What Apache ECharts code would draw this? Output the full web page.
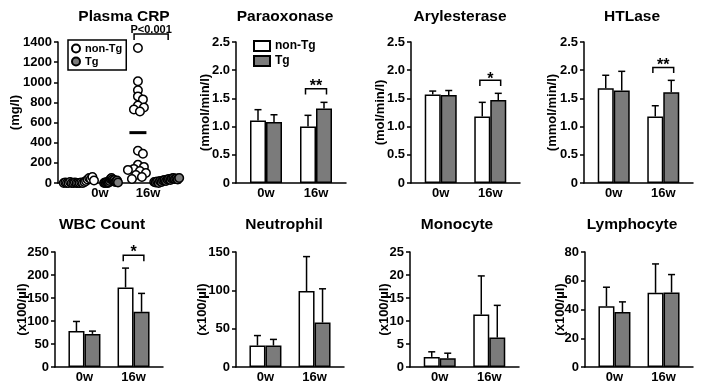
<!DOCTYPE html>
<html>
<head>
<meta charset="utf-8">
<script src="https://cdn.jsdelivr.net/npm/echarts@6/dist/echarts.min.js"></script>
<style>
html,body{margin:0;padding:0;background:#fff}
#chart{width:704px;height:390px}
</style>
</head>
<body>
<div id="chart"></div>
<script>
var titles = ['Plasma CRP', 'Paraoxonase', 'Arylesterase', 'HTLase', 'WBC Count', 'Neutrophil', 'Monocyte', 'Lymphocyte'];
var units = ['(mg/l)', '(mmol/min/l)', '(mol/min/l)', '(mmol/min/l)', '(x100/\u00b5l)', '(x100/\u00b5l)', '(x100/\u00b5l)', '(x100/\u00b5l)'];
var yMax = [1400, 2.5, 2.5, 2.5, 250, 150, 25, 80];
var yStep = [200, 0.5, 0.5, 0.5, 50, 50, 5, 20];

// CRP dots (mg/l), listed left to right as they sit in each cluster
var crp0wNonTg = [0, 5, 0, 0, 10, 0, 0, 5, 0, 0, 0, 5, 0, 10, 20, 35, 50, 40, 60, 25];
var crp0wTg = [0, 5, 0, 10, 0, 5, 20, 40, 50, 35, 20, 30, 10, 15, 25, 5];
var crp16wNonTg = [1340, 1010, 920, 860, 830, 770, 750, 730, 710, 320, 290, 180, 160, 140, 130, 120, 100, 80, 60, 40];
var crp16wTg = [10, 5, 15, 0, 20, 10, 25, 30, 20, 35, 40, 30, 45, 50, 40, 45, 35, 50];
var crpMean = [12, 20, 500, 30];

// bar panels: mean and upper SD, [0w, 16w]
var paraNonTg = [1.11, 1.00], paraNonTgSd = [0.19, 0.20];
var paraTg = [1.08, 1.32], paraTgSd = [0.13, 0.11];
var arylNonTg = [1.57, 1.18], arylNonTgSd = [0.06, 0.25];
var arylTg = [1.56, 1.47], arylTgSd = [0.08, 0.12];
var htlNonTg = [1.68, 1.18], htlNonTgSd = [0.23, 0.19];
var htlTg = [1.64, 1.61], htlTgSd = [0.34, 0.21];
var wbcNonTg = [78, 173], wbcNonTgSd = [21, 42];
var wbcTg = [72, 120], wbcTgSd = [6, 40];
var neutNonTg = [28, 99], neutNonTgSd = [13, 45];
var neutTg = [28, 58], neutTgSd = [8, 44];
var monoNonTg = [2.2, 11.4], monoNonTgSd = [1.1, 8.4];
var monoTg = [1.9, 6.4], monoTgSd = [1.1, 7.0];
var lymNonTg = [42.3, 51.6], lymNonTgSd = [13.2, 20.1];
var lymTg = [38.2, 51.8], lymTgSd = [7.1, 12.5];

// significance brackets
var sigPanel = [0, 1, 2, 3, 4];
var sigText = ['P<0.001', '**', '*', '**', '*'];
var sigFrom = [0.71, 0.79, 0.79, 0.79, 0.79];
var sigTo = [1.42, 1.21, 1.21, 1.21, 1.21];
var sigTop = [1480, 1.67, 1.82, 2.05, 243];
var sigLeg = [1420, 1.57, 1.72, 1.95, 230];
var sigLabelY = [1519, 1.71, 1.84, 2.09, 249];

// layout
var FONT = '"Liberation Sans", Arial, Helvetica, sans-serif';
var grids = [
  {left: 58, top: 42, width: 122, height: 141},
  {left: 236, top: 42, width: 110, height: 141},
  {left: 411, top: 42, width: 109, height: 141},
  {left: 584, top: 42, width: 109, height: 141},
  {left: 55, top: 252, width: 108, height: 115},
  {left: 236, top: 252, width: 108, height: 115},
  {left: 410, top: 252, width: 109, height: 115},
  {left: 585, top: 252, width: 108, height: 115}
];
var nameGaps = [36, 24, 24, 25, 26, 27, 19, 18];
var titlePos = [[124, 17], [285, 17], [460, 17], [632, 17], [102, 225], [284, 225], [457, 225], [632, 225]];
var crpCenter = [-0.44, 0.23, 0.79, 1.39];
var crpSpread = [0.63, 0.29, 0, 0.52]; // 0 = beeswarm
var BAR_W = 16;
var GREY = '#7b7b7b';

var crpGroups = [crp0wNonTg, crp0wTg, crp16wNonTg, crp16wTg];
var barNonTg = [paraNonTg, arylNonTg, htlNonTg, wbcNonTg, neutNonTg, monoNonTg, lymNonTg];
var barNonTgSd = [paraNonTgSd, arylNonTgSd, htlNonTgSd, wbcNonTgSd, neutNonTgSd, monoNonTgSd, lymNonTgSd];
var barTg = [paraTg, arylTg, htlTg, wbcTg, neutTg, monoTg, lymTg];
var barTgSd = [paraTgSd, arylTgSd, htlTgSd, wbcTgSd, neutTgSd, monoTgSd, lymTgSd];

function weekLabel(v) {
  if (Math.abs(v) < 1e-6) return '0w';
  if (Math.abs(v - 1) < 1e-6) return '16w';
  return '';
}

// spread a cluster: evenly across a width, or beeswarm around the centre
function placeDots(vals, cx, spread) {
  var xPx = 48, yPx = 141 / 1400, minD = 5.5;
  if (spread > 0) {
    return vals.map(function (v, i) {
      return [cx - spread / 2 + spread * i / (vals.length - 1), v];
    });
  }
  var placed = [];
  return vals.map(function (v) {
    var py = v * yPx, off = 0;
    for (var k = 0; k < 60; k++) {
      off = (k % 2 ? 1 : -1) * Math.ceil(k / 2);
      var ok = placed.every(function (p) {
        var dx = p[0] - off, dy = p[1] - py;
        return dx * dx + dy * dy >= minD * minD;
      });
      if (ok) break;
    }
    placed.push([off, py]);
    return [cx + off / xPx, v];
  });
}

function renderErr(params, api) {
  var p0 = api.coord([api.value(0), api.value(1)]);
  var p1 = api.coord([api.value(0), api.value(2)]);
  var cx = p0[0] + api.value(3) * BAR_W / 2;
  var st = {stroke: '#000', lineWidth: 1.5};
  return {type: 'group', children: [
    {type: 'line', shape: {x1: cx, y1: p0[1], x2: cx, y2: p1[1]}, style: st},
    {type: 'line', shape: {x1: cx - 3.5, y1: p1[1], x2: cx + 3.5, y2: p1[1]}, style: st}
  ]};
}

function renderMean(params, api) {
  var p = api.coord([api.value(0), api.value(1)]);
  return {type: 'line', shape: {x1: p[0] - 8.5, y1: p[1], x2: p[0] + 8.5, y2: p[1]},
    style: {stroke: '#000', lineWidth: 3}};
}

function makeSig(k) {
  var label = sigText[k];
  var size = k === 0 ? 11 : 16;
  return {
    type: 'custom', xAxisIndex: sigPanel[k], yAxisIndex: sigPanel[k], silent: true, z: 5,
    data: [[sigFrom[k], sigTo[k], sigTop[k], sigLeg[k], sigLabelY[k]]],
    encode: {x: [0, 1], y: [2, 3, 4]},
    renderItem: function (params, api) {
      var a = api.coord([api.value(0), api.value(2)]);
      var b = api.coord([api.value(1), api.value(2)]);
      var legY = api.coord([api.value(0), api.value(3)])[1];
      var t = api.coord([(api.value(0) + api.value(1)) / 2, api.value(4)]);
      return {type: 'group', children: [
        {type: 'polyline', shape: {points: [[a[0], legY], [a[0], a[1]], [b[0], b[1]], [b[0], legY]]},
          style: {stroke: '#000', lineWidth: 1.5, fill: null}},
        {type: 'text', x: t[0], y: t[1], style: {text: label, fill: '#000',
          font: 'bold ' + size + 'px ' + FONT, align: 'center', verticalAlign: 'middle',
          textAlign: 'center', textVerticalAlign: 'middle'}}
      ]};
    }
  };
}

var xAxes = [], yAxes = [], series = [], graphics = [];
grids.forEach(function (g, i) {
  var isCrp = i === 0;
  xAxes.push({
    type: 'value', gridIndex: i,
    min: isCrp ? -0.875 : -0.6,
    max: isCrp ? -0.875 + 122 / 48 : 1.6,
    interval: isCrp ? 0.125 : 0.2,
    axisLine: {show: true, onZero: false, lineStyle: {color: '#000', width: 1.5}},
    axisTick: {show: false},
    splitLine: {show: false},
    axisLabel: {color: '#000', fontSize: 13, fontWeight: 'bold', fontFamily: FONT, margin: 4,
      showMinLabel: true, showMaxLabel: true, formatter: weekLabel}
  });
  yAxes.push({
    type: 'value', gridIndex: i, min: 0, max: yMax[i], interval: yStep[i],
    name: units[i], nameLocation: 'middle', nameGap: nameGaps[i], nameMoveOverlap: false,
    nameTextStyle: {color: '#000', fontSize: 13, fontWeight: 'bold', fontFamily: FONT},
    axisLine: {show: true, onZero: false, lineStyle: {color: '#000', width: 1.5}},
    axisTick: {show: true, length: 4, lineStyle: {color: '#000', width: 1.5}},
    splitLine: {show: false},
    axisLabel: {color: '#000', fontSize: 13, fontWeight: 'bold', fontFamily: FONT, margin: 6,
      formatter: function (v) { return yStep[i] < 1 && v !== 0 ? v.toFixed(1) : String(v); }}
  });
  graphics.push({type: 'text', x: titlePos[i][0], y: titlePos[i][1], silent: true,
    style: {text: titles[i], fill: '#000', font: 'bold 15.5px ' + FONT,
      align: 'center', verticalAlign: 'middle', textAlign: 'center', textVerticalAlign: 'middle'}});
});

// CRP dot plot
series.push({
  type: 'custom', xAxisIndex: 0, yAxisIndex: 0, silent: true, z: 2,
  data: crpMean.map(function (m, i) { return [crpCenter[i], m]; }),
  renderItem: renderMean
});
crpGroups.forEach(function (vals, i) {
  var tg = i % 2 === 1;
  series.push({
    type: 'scatter', name: tg ? 'crp-Tg' : 'crp-non-Tg', xAxisIndex: 0, yAxisIndex: 0,
    data: placeDots(vals, crpCenter[i], crpSpread[i]),
    symbol: 'circle', symbolSize: 8.5, z: 3,
    itemStyle: {color: tg ? GREY : '#fff', borderColor: '#000', borderWidth: 1.5, opacity: 1},
    emphasis: {disabled: true}
  });
});

// bar panels
barNonTg.forEach(function (nonTg, j) {
  var idx = j + 1;
  var tg = barTg[j];
  series.push({
    type: 'bar', name: 'non-Tg', xAxisIndex: idx, yAxisIndex: idx, barWidth: BAR_W, barGap: '0%',
    data: nonTg.map(function (v, i) { return [i, v]; }),
    itemStyle: {color: '#fff', borderColor: '#000', borderWidth: 1.5}, emphasis: {disabled: true}
  });
  series.push({
    type: 'bar', name: 'Tg', xAxisIndex: idx, yAxisIndex: idx, barWidth: BAR_W, barGap: '0%',
    data: tg.map(function (v, i) { return [i, v]; }),
    itemStyle: {color: GREY, borderColor: '#000', borderWidth: 1.5}, emphasis: {disabled: true}
  });
  var err = [];
  for (var i = 0; i < 2; i++) {
    err.push([i, nonTg[i], nonTg[i] + barNonTgSd[j][i], -1]);
    err.push([i, tg[i], tg[i] + barTgSd[j][i], 1]);
  }
  series.push({
    type: 'custom', xAxisIndex: idx, yAxisIndex: idx, silent: true, z: 4,
    data: err, encode: {x: 0, y: [1, 2]}, renderItem: renderErr
  });
});

sigPanel.forEach(function (p, k) { series.push(makeSig(k)); });

var chart = echarts.init(document.getElementById('chart'));
chart.setOption({
  animation: false,
  backgroundColor: '#fff',
  textStyle: {fontFamily: FONT},
  grid: grids,
  xAxis: xAxes,
  yAxis: yAxes,
  legend: [
    {data: ['crp-non-Tg', 'crp-Tg'], left: 68, top: 40, orient: 'vertical', selectedMode: false,
      formatter: function (n) { return n.replace('crp-', ''); },
      borderColor: '#000', borderWidth: 1.5, padding: [3, 4, 3, 3],
      itemWidth: 8, itemHeight: 8, itemGap: 2,
      textStyle: {color: '#000', fontSize: 11, fontWeight: 'bold', fontFamily: FONT}},
    {data: ['non-Tg', 'Tg'], left: 253, top: 40, orient: 'vertical', selectedMode: false,
      icon: 'rect', itemWidth: 16, itemHeight: 10, itemGap: 3, padding: 0,
      textStyle: {color: '#000', fontSize: 12, fontWeight: 'bold', fontFamily: FONT}}
  ],
  graphic: graphics,
  series: series
});
</script>
</body>
</html>
